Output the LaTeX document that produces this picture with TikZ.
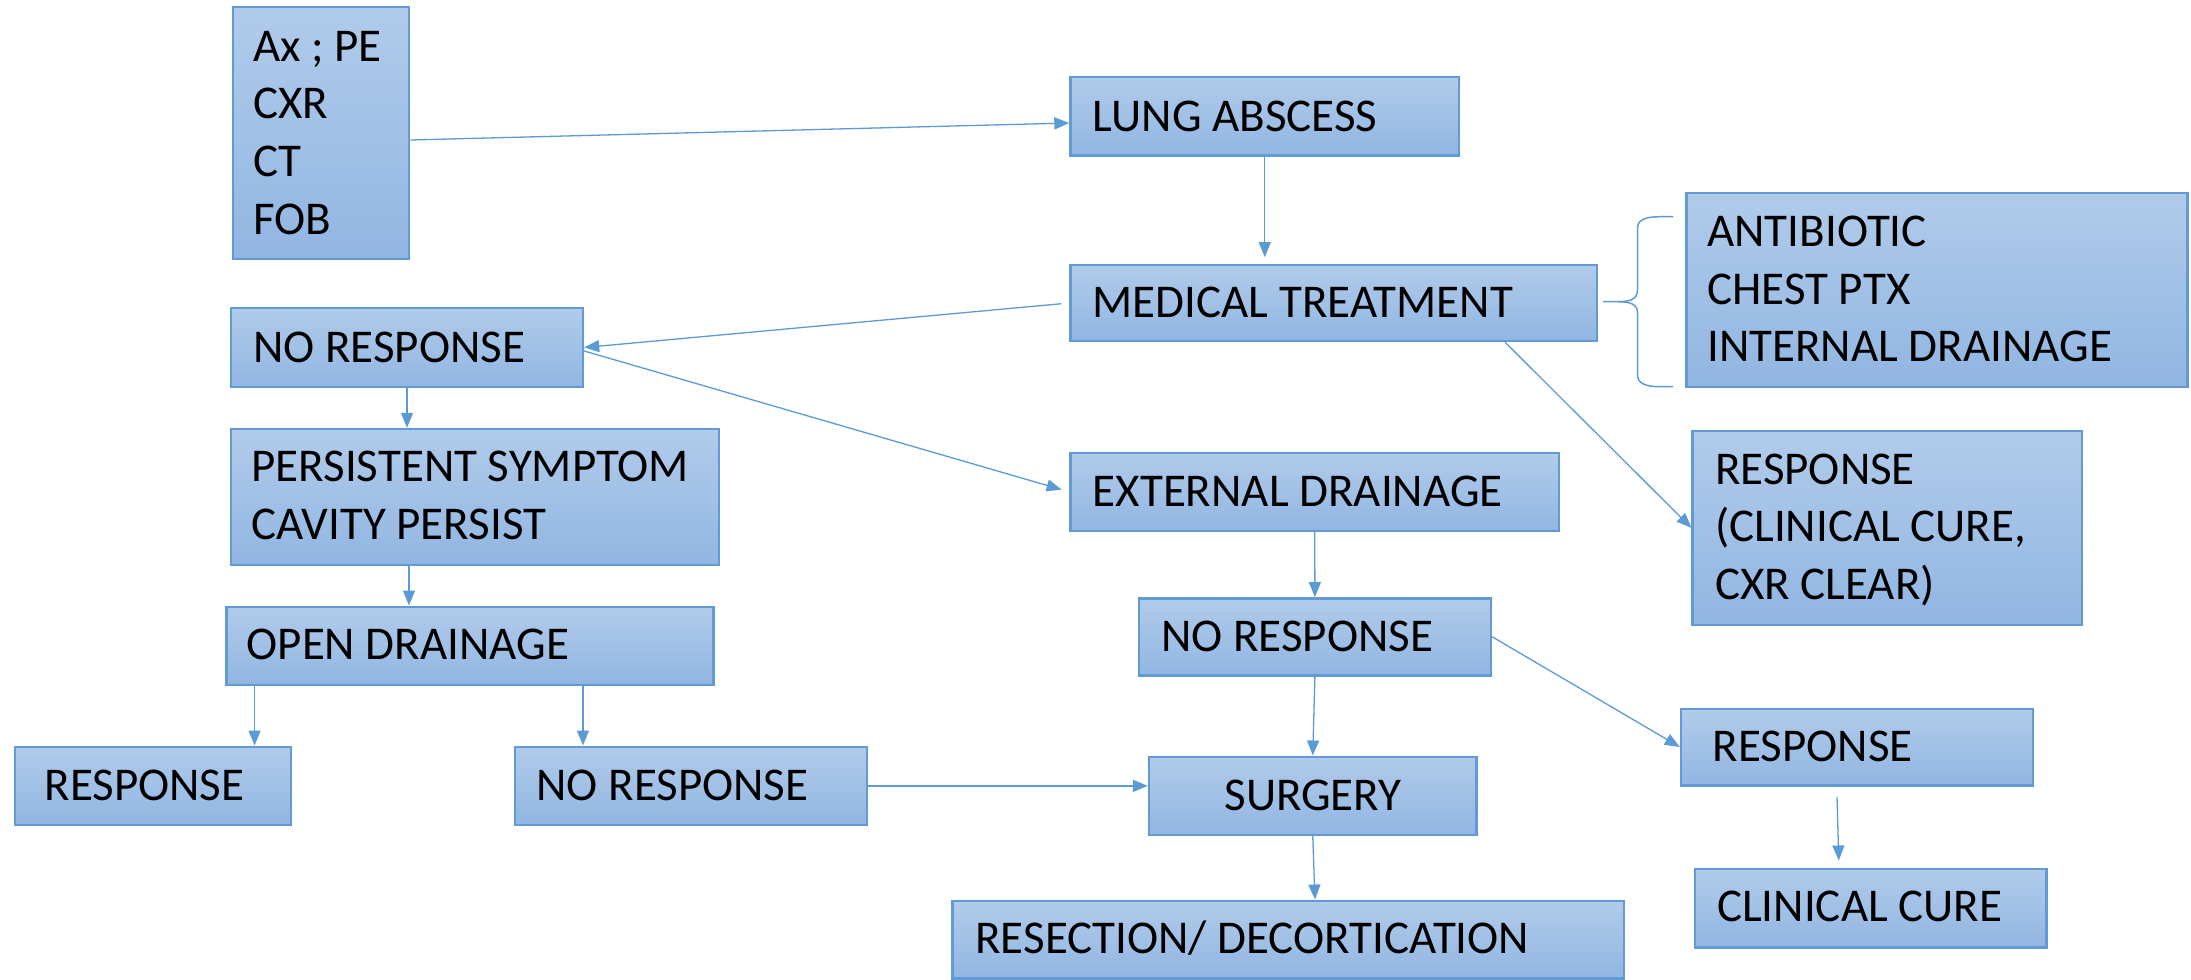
\documentclass[tikz,border=0pt]{standalone}
\usepackage{fontspec}
\setmainfont{Carlito}
\usetikzlibrary{arrows.meta,calc}
\definecolor{boxtop}{RGB}{177,203,234}
\definecolor{boxbot}{RGB}{145,182,226}
\definecolor{boxline}{RGB}{98,154,214}
\definecolor{conn}{RGB}{91,155,213}
\tikzset{
  flowbox/.style={draw=boxline, line width=1.2pt, top color=boxtop, bottom color=boxbot, inner sep=0pt, rectangle},
  txt/.style={font=\fontsize{23.5}{29}\selectfont, inner sep=0pt, anchor=base west, text=black},
  conn/.style={draw=conn, line width=0.65pt, -{Triangle[length=7.5pt,width=6pt]}},
  brace/.style={draw=conn, line width=0.75pt}
}
\newcommand{\flowbox}[5]{\node[flowbox, minimum width={(#4-#2)*0.5pt}, minimum height={(#5-#3)*0.5pt}] (#1) at ({(#2+#4)/2},{(#3+#5)/2}) {};}
\begin{document}
\begin{tikzpicture}[x=0.5pt,y=-0.5pt]
\useasboundingbox (0,0) rectangle (2191,980);
% boxes
\flowbox{ax}{232.7}{6.7}{409.2}{259}
\flowbox{la}{1070.5}{76.7}{1459}{155.3}
\flowbox{mt}{1070.5}{265}{1597}{341}
\flowbox{ab}{1686.5}{192.7}{2187.5}{386.7}
\flowbox{respa}{1692.6}{430.7}{2081.7}{625}
\flowbox{nra}{231}{308}{583}{387}
\flowbox{pers}{230.8}{429}{719}{565}
\flowbox{ed}{1070.5}{452.7}{1559}{531}
\flowbox{open}{226.6}{606.7}{713.4}{685}
\flowbox{nrb}{1138.8}{598.3}{1491}{675.3}
\flowbox{respb}{14.7}{746.7}{291}{825}
\flowbox{nrc}{515}{746.7}{867}{825}
\flowbox{surg}{1149}{756.7}{1476.5}{835}
\flowbox{respc}{1681}{708.7}{2033}{785.3}
\flowbox{cc}{1694.8}{868.7}{2046.4}{947.3}
\flowbox{res}{952.4}{900.7}{1623.7}{978.3}
% texts
\node[txt] (ax1) at (252.6,61) {Ax ; PE};
\node[txt] (ax2) at (252.6,118) {CXR};
\node[txt] (ax3) at (252.6,176) {CT};
\node[txt] (ax4) at (252.6,234) {FOB};
\node[txt] (lat) at (1092.4,131) {LUNG ABSCESS};
\node[txt] (mtt) at (1092.4,317.7) {MEDICAL TREATMENT};
\node[txt] (ab1) at (1707,246.7) {ANTIBIOTIC};
\node[txt] (ab2) at (1707,304) {CHEST PTX};
\node[txt] (ab3) at (1707,361.7) {INTERNAL DRAINAGE};
\node[txt] (ra1) at (1714.6,484) {RESPONSE};
\node[txt] (ra2) at (1714.6,541.7) {(CLINICAL CURE,};
\node[txt] (ra3) at (1714.6,599.3) {CXR CLEAR)};
\node[txt] (nrat) at (252.6,362) {NO RESPONSE};
\node[txt] (pe1) at (251,481.7) {PERSISTENT SYMPTOM};
\node[txt] (pe2) at (251,539.3) {CAVITY PERSIST};
\node[txt] (edt) at (1092.4,506) {EXTERNAL DRAINAGE};
\node[txt] (opt) at (246.2,659.3) {OPEN DRAINAGE};
\node[txt] (nrbt) at (1160.6,651) {NO RESPONSE};
\node[txt] (rbt) at (44.2,800) {RESPONSE};
\node[txt] (nrct) at (536,800) {NO RESPONSE};
\node[txt, anchor=base] (sut) at (1313,810.7) {SURGERY};
\node[txt] (rct) at (1712.3,761) {RESPONSE};
\node[txt] (cct) at (1716.7,921.7) {CLINICAL CURE};
\node[txt] (rest) at (975,953) {RESECTION/ DECORTICATION};
% connectors
\draw[conn] (ax.east |- 0,140) -- (la.west |- 0,123);
\draw[conn, shorten >=3.3pt] (la.south) -- (mt.north -| la.south);
\draw[conn, shorten <=4pt] (mt.west) -- (nra.east);
\draw[conn, shorten >=4pt] (nra.east |- 0,351) -- (ed.west);
\draw[conn] (mt.south -| 1505,0) -- (respa.west);
\draw[conn] (nra.south) -- (pers.north -| nra.south);
\draw[conn] (pers.south -| 409,0) -- (open.north -| 409,0);
\draw[conn] (open.south -| 254.6,0) -- (respb.north -| 254.6,0);
\draw[conn] (open.south -| 583,0) -- (nrc.north -| 583,0);
\draw[conn] (ed.south) -- (nrb.north);
\draw[conn] (nrb.south) -- (surg.north);
\draw[conn] (nrb.east) -- (respc.west);
\draw[conn] (nrc.east) -- (surg.west |- nrc.east);
\draw[conn] (surg.south) -- (res.north -| 1315,0);
\coordinate (rcstart) at (1837,797);
\draw[conn, shorten >=3.5pt] (rcstart) -- (cc.north -| 1839,0);
% brace
\coordinate (bracetip) at (1603,301.7);
\draw[brace] (bracetip) -- (1618,301.7) .. controls (1632,301.7) and (1637.5,298) .. (1637.5,290) -- (1637.5,228) .. controls (1637.5,220) and (1645,216.7) .. (1660,216.7) -- (1673,216.7);
\draw[brace] (1618,301.7) .. controls (1632,301.7) and (1637.5,305) .. (1637.5,313) -- (1637.5,375) .. controls (1637.5,383) and (1645,386.7) .. (1660,386.7) -- (1673,386.7);
\end{tikzpicture}
\end{document}
